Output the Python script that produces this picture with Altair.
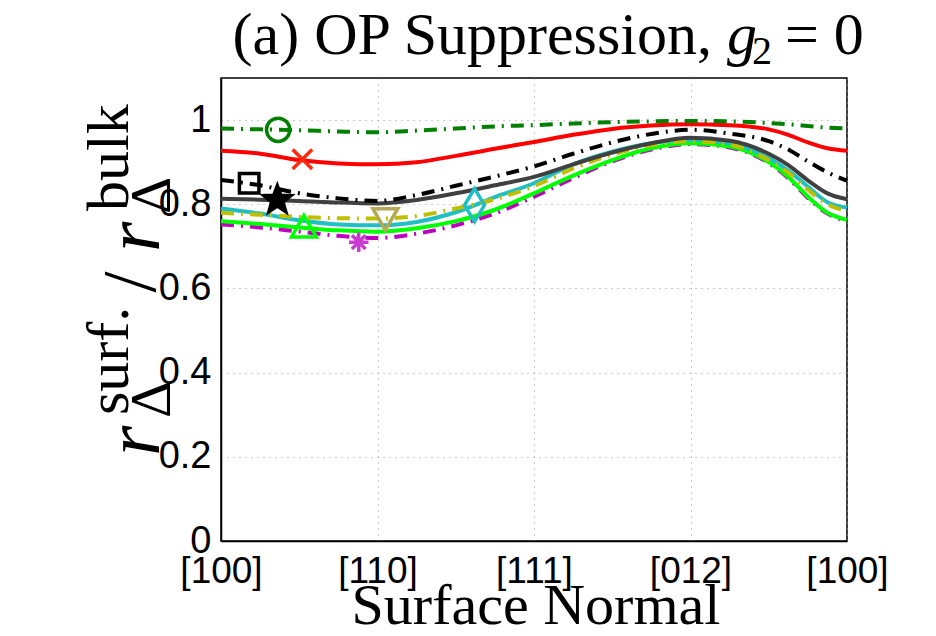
import math
import altair as alt
import pandas as pd

# ---------------- data ----------------
X_POS = [0, 0.25, 0.5, 0.75, 1.0, 1.25, 1.5, 1.75, 2.0, 2.25, 2.5, 2.75, 3.0,
         3.25, 3.5, 3.625, 3.75, 3.875, 4.0]
X_TICK_VALUES = [0, 1, 2, 3, 4]
X_TICK_LABELS = ["[100]", "[110]", "[111]", "[012]", "[100]"]
Y_TICK_VALUES = [0, 0.2, 0.4, 0.6, 0.8, 1.0]
Y_TICK_LABELS = ["0", "0.2", "0.4", "0.6", "0.8", "1"]

S_MAGENTA = [0.752, 0.745, 0.735, 0.725, 0.720, 0.730, 0.750, 0.778, 0.818, 0.862,
             0.902, 0.930, 0.943, 0.935, 0.898, 0.862, 0.815, 0.778, 0.760]
S_LIME = [0.760, 0.753, 0.745, 0.738, 0.735, 0.743, 0.760, 0.787, 0.826, 0.868,
          0.905, 0.933, 0.945, 0.937, 0.900, 0.865, 0.818, 0.780, 0.763]
S_CYAN = [0.790, 0.778, 0.762, 0.752, 0.750, 0.758, 0.781, 0.817, 0.850, 0.895,
          0.925, 0.945, 0.953, 0.945, 0.910, 0.880, 0.842, 0.805, 0.792]
S_YELLOW = [0.780, 0.775, 0.770, 0.767, 0.766, 0.772, 0.790, 0.812, 0.843, 0.885,
            0.918, 0.940, 0.950, 0.942, 0.905, 0.875, 0.835, 0.800, 0.784]
S_GRAY = [0.813, 0.811, 0.808, 0.804, 0.802, 0.810, 0.826, 0.845, 0.865, 0.895,
          0.923, 0.945, 0.958, 0.951, 0.920, 0.893, 0.857, 0.826, 0.812]
S_BLACK = [0.858, 0.845, 0.826, 0.814, 0.808, 0.822, 0.844, 0.866, 0.890, 0.920,
           0.947, 0.967, 0.977, 0.968, 0.950, 0.930, 0.902, 0.876, 0.856]
S_RED = [0.927, 0.920, 0.905, 0.897, 0.895, 0.900, 0.915, 0.932, 0.948, 0.965,
         0.979, 0.987, 0.990, 0.988, 0.978, 0.965, 0.947, 0.933, 0.927]
S_GREEN = [0.980, 0.978, 0.976, 0.973, 0.971, 0.975, 0.980, 0.985, 0.988, 0.992,
           0.995, 0.997, 0.998, 0.997, 0.993, 0.990, 0.986, 0.982, 0.980]

SERIES_NAMES = ["magenta", "lime", "cyan", "yellow", "gray", "black", "red", "green"]
SERIES_VALUES = [S_MAGENTA, S_LIME, S_CYAN, S_YELLOW, S_GRAY, S_BLACK, S_RED, S_GREEN]

MARKER_X = [0.88, 0.53, 1.62, 1.05, 0.36, 0.18, 0.52, 0.365]
MARKER_Y = [0.710, 0.748, 0.798, 0.764, 0.810, 0.850, 0.907, 0.977]

# ---------------- styles ----------------
DD = [13, 7, 2, 7]
LINE_STYLE = {
    "magenta": dict(color="#bf00bf", dash=DD, width=4),
    "lime": dict(color="#00ff00", dash=None, width=4),
    "cyan": dict(color="#1fbfc6", dash=None, width=4),
    "yellow": dict(color="#bfbf00", dash=DD, width=4),
    "gray": dict(color="#404040", dash=None, width=4),
    "black": dict(color="#000000", dash=DD, width=4),
    "red": dict(color="#ff0000", dash=None, width=4),
    "green": dict(color="#008000", dash=DD, width=4),
}

star_pts = []
for k in range(10):
    r = 1.0 if k % 2 == 0 else 0.42
    a = -math.pi / 2 + k * math.pi / 5
    star_pts.append(f"{r * math.cos(a):.3f},{r * math.sin(a):.3f}")
STAR = "M" + "L".join(star_pts) + "Z"
ASTERISK = "M0,-1L0,1M-1,0L1,0M-0.7,-0.7L0.7,0.7M-0.7,0.7L0.7,-0.7"
XCROSS = "M-1,-1L1,1M-1,1L1,-1"
DIAMOND = "M0,-1L0.6,0L0,1L-0.6,0Z"

MARKER_STYLE = {
    "magenta": dict(shape=ASTERISK, color="#c83cd2", filled=False, size=380),
    "lime": dict(shape="triangle-up", color="#00ff00", filled=False, size=620),
    "cyan": dict(shape=DIAMOND, color="#1fbfc6", filled=False, size=1100),
    "yellow": dict(shape="triangle-down", color="#b2aa55", filled=False, size=620),
    "gray": dict(shape=STAR, color="#000000", filled=True, size=820),
    "black": dict(shape="square", color="#000000", filled=False, size=380),
    "red": dict(shape=XCROSS, color="#ff2a10", filled=False, size=380),
    "green": dict(shape="circle", color="#008000", filled=False, size=540),
}

# ---------------- tables ----------------
rows = []
for name, vals in zip(SERIES_NAMES, SERIES_VALUES):
    for x, v in zip(X_POS, vals):
        rows.append({"s": name, "x": x, "v": v})
lines_df = pd.DataFrame(rows)
markers_df = pd.DataFrame({"s": SERIES_NAMES, "x": MARKER_X, "v": MARKER_Y})

xlab_expr = "[" + ",".join(f"'{t}'" for t in X_TICK_LABELS) + "][round(datum.value)]"
ylab_expr = "[" + ",".join(f"'{t}'" for t in Y_TICK_LABELS) + "][round(datum.value*5)]"

x_enc = alt.X("x:Q", scale=alt.Scale(domain=[0, 4], nice=False, zero=False),
              axis=alt.Axis(values=X_TICK_VALUES, labelExpr=xlab_expr, title=None,
                            labelFlush=False, labelOverlap=False, ticks=False,
                            labelPadding=12, labelFontSize=37))
y_enc = alt.Y("v:Q", scale=alt.Scale(domain=[0, 1.1], nice=False, zero=False),
              axis=alt.Axis(values=Y_TICK_VALUES, labelExpr=ylab_expr, title=None,
                            ticks=False, labelPadding=10, labelFontSize=38))

layers = []
for name in SERIES_NAMES:
    st = LINE_STYLE[name]
    kw = dict(color=st["color"], strokeWidth=st["width"], interpolate="monotone")
    if st["dash"]:
        kw["strokeDash"] = st["dash"]
    layers.append(
        alt.Chart(lines_df).transform_filter(alt.datum.s == name)
        .mark_line(**kw).encode(x=x_enc, y=y_enc)
    )
for name in SERIES_NAMES:
    ms = MARKER_STYLE[name]
    kw = dict(shape=ms["shape"], size=ms["size"], strokeWidth=3.5, opacity=1)
    if ms["filled"]:
        kw.update(filled=True, color=ms["color"], stroke=ms["color"])
    else:
        kw.update(filled=False, color=ms["color"])
    layers.append(
        alt.Chart(markers_df).transform_filter(alt.datum.s == name)
        .mark_point(**kw).encode(x=x_enc, y=y_enc)
    )

ONE = alt.Data(values=[{"k": 0}])


def txt(text, x, y, size, angle=0, italic=False, align="center", baseline="alphabetic"):
    kw = dict(text=text, font="Liberation Serif", fontSize=size, align=align,
              baseline=baseline, color="black")
    if angle:
        kw["angle"] = angle
    if italic:
        kw["fontStyle"] = "italic"
    return alt.Chart(ONE).mark_text(**kw).encode(x=alt.value(x), y=alt.value(y))


# positions relative to the plot origin (221, 78)
layers += [
    txt("(a) OP Suppression,", 491, -24, 60, align="right"),
    txt("g", 506, -24, 60, italic=True, align="left"),
    txt("2", 531, -14, 40, align="left"),
    txt("= 0", 564, -24, 60, align="left"),
    txt("Surface Normal", 315, 546, 58),
    txt("r", -62, 378, 78, angle=270, italic=True, align="left"),
    txt("Δ", -51, 340, 58, angle=270, align="left"),
    txt("surf.", -93, 337, 60, angle=270, align="left"),
    txt("/", -66, 204, 76, angle=270, align="center"),
    txt("r", -62, 174, 78, angle=270, italic=True, align="left"),
    txt("Δ", -51, 136, 58, angle=270, align="left"),
    txt("bulk", -93, 133, 60, angle=270, align="left"),
]

chart = (
    alt.layer(*layers)
    .properties(width=626, height=463,
                autosize=alt.AutoSizeParams(type="none"),
                padding={"left": 221, "top": 78, "right": 89, "bottom": 95},
                background="white")
    .configure_view(stroke="black", strokeWidth=1.5)
    .configure_axis(labelFont="Liberation Sans", labelColor="black",
                    domainColor="black", domainWidth=1.5,
                    grid=True, gridColor="#9a9a9a", gridDash=[1, 5], gridWidth=1,
                    gridOpacity=1)
)

chart.save("out.html", embed_options={"renderer": "svg", "actions": False})
